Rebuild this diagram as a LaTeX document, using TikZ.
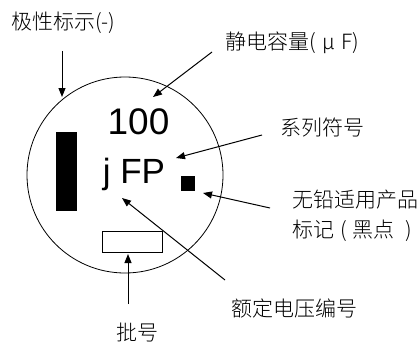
\documentclass[tikz,border=0pt]{standalone}
\usepackage{fontspec}
\setmainfont{Liberation Sans}
\newfontfamily\cjkf{Noto Sans CJK SC}[UprightFont={* Light}]
\usetikzlibrary{arrows.meta}
\tikzset{
  lbl/.style={font=\cjkf\fontsize{21pt}{24pt}\selectfont, inner sep=0pt, anchor=west},
  arr/.style={line width=1pt, -{Triangle[length=9pt,width=7pt]}},
}
\begin{document}
\begin{tikzpicture}[x=1pt,y=-1pt]
\useasboundingbox (0,0) rectangle (419,342);
% body
\node[draw, circle, line width=0.8pt, minimum size=196pt, inner sep=0pt] (body) at (125,175) {};
\node[fill=black, inner sep=0pt, minimum width=21pt, minimum height=79pt] (pol) at (66.5,171.5) {};
\node[fill=black, inner sep=0pt, minimum width=14pt, minimum height=15pt] (dot) at (188,183.5) {};
\node[draw, line width=0.8pt, inner sep=0pt, minimum width=60pt, minimum height=21pt] (lotbox) at (132,241.5) {};
\node[font=\fontsize{37pt}{40pt}\selectfont, inner sep=0pt, anchor=base] (cap) at (138.5,134) {100};
\node[font=\fontsize{35pt}{40pt}\selectfont, inner sep=0pt, anchor=base] (ser) at (134,183) {j FP};
% labels
\node[lbl] (lpol) at (11,23) {极性标示(-)};
\node[lbl] (lcap) at (225,43) {静电容量(\hspace{7pt}μ\hspace{6pt}F)};
\node[lbl] (lser) at (280,128) {系列符号};
\node[lbl] (llf1) at (292,200) {无铅适用产品};
\node[lbl] (llf2) at (292,231) {标记\hspace{6pt}(\hspace{5.5pt}黑点\hspace{11pt})};
\node[lbl] (lvol) at (231,308) {额定电压编号};
\node[lbl, anchor=center] (llot) at (137,333) {批号};
% connector ends
\coordinate (t1) at (62,51);  \coordinate (h1) at (62,97);
\coordinate (t2) at (212,52); \coordinate (h2) at (153,97);
\coordinate (t3) at (262,135); \coordinate (h3) at (176,158);
\coordinate (t4) at (270,208); \coordinate (h4) at (203,193);
\coordinate (t5) at (225,280); \coordinate (h5) at (122,198);
\coordinate (t6) at (128,304); \coordinate (h6) at (128,254);
\draw[arr] (t1) -- (h1);
\draw[arr] (t2) -- (h2);
\draw[arr] (t3) -- (h3);
\draw[arr] (t4) -- (h4);
\draw[arr] (t5) -- (h5);
\draw[arr] (t6) -- (h6);
\end{tikzpicture}
\end{document}
